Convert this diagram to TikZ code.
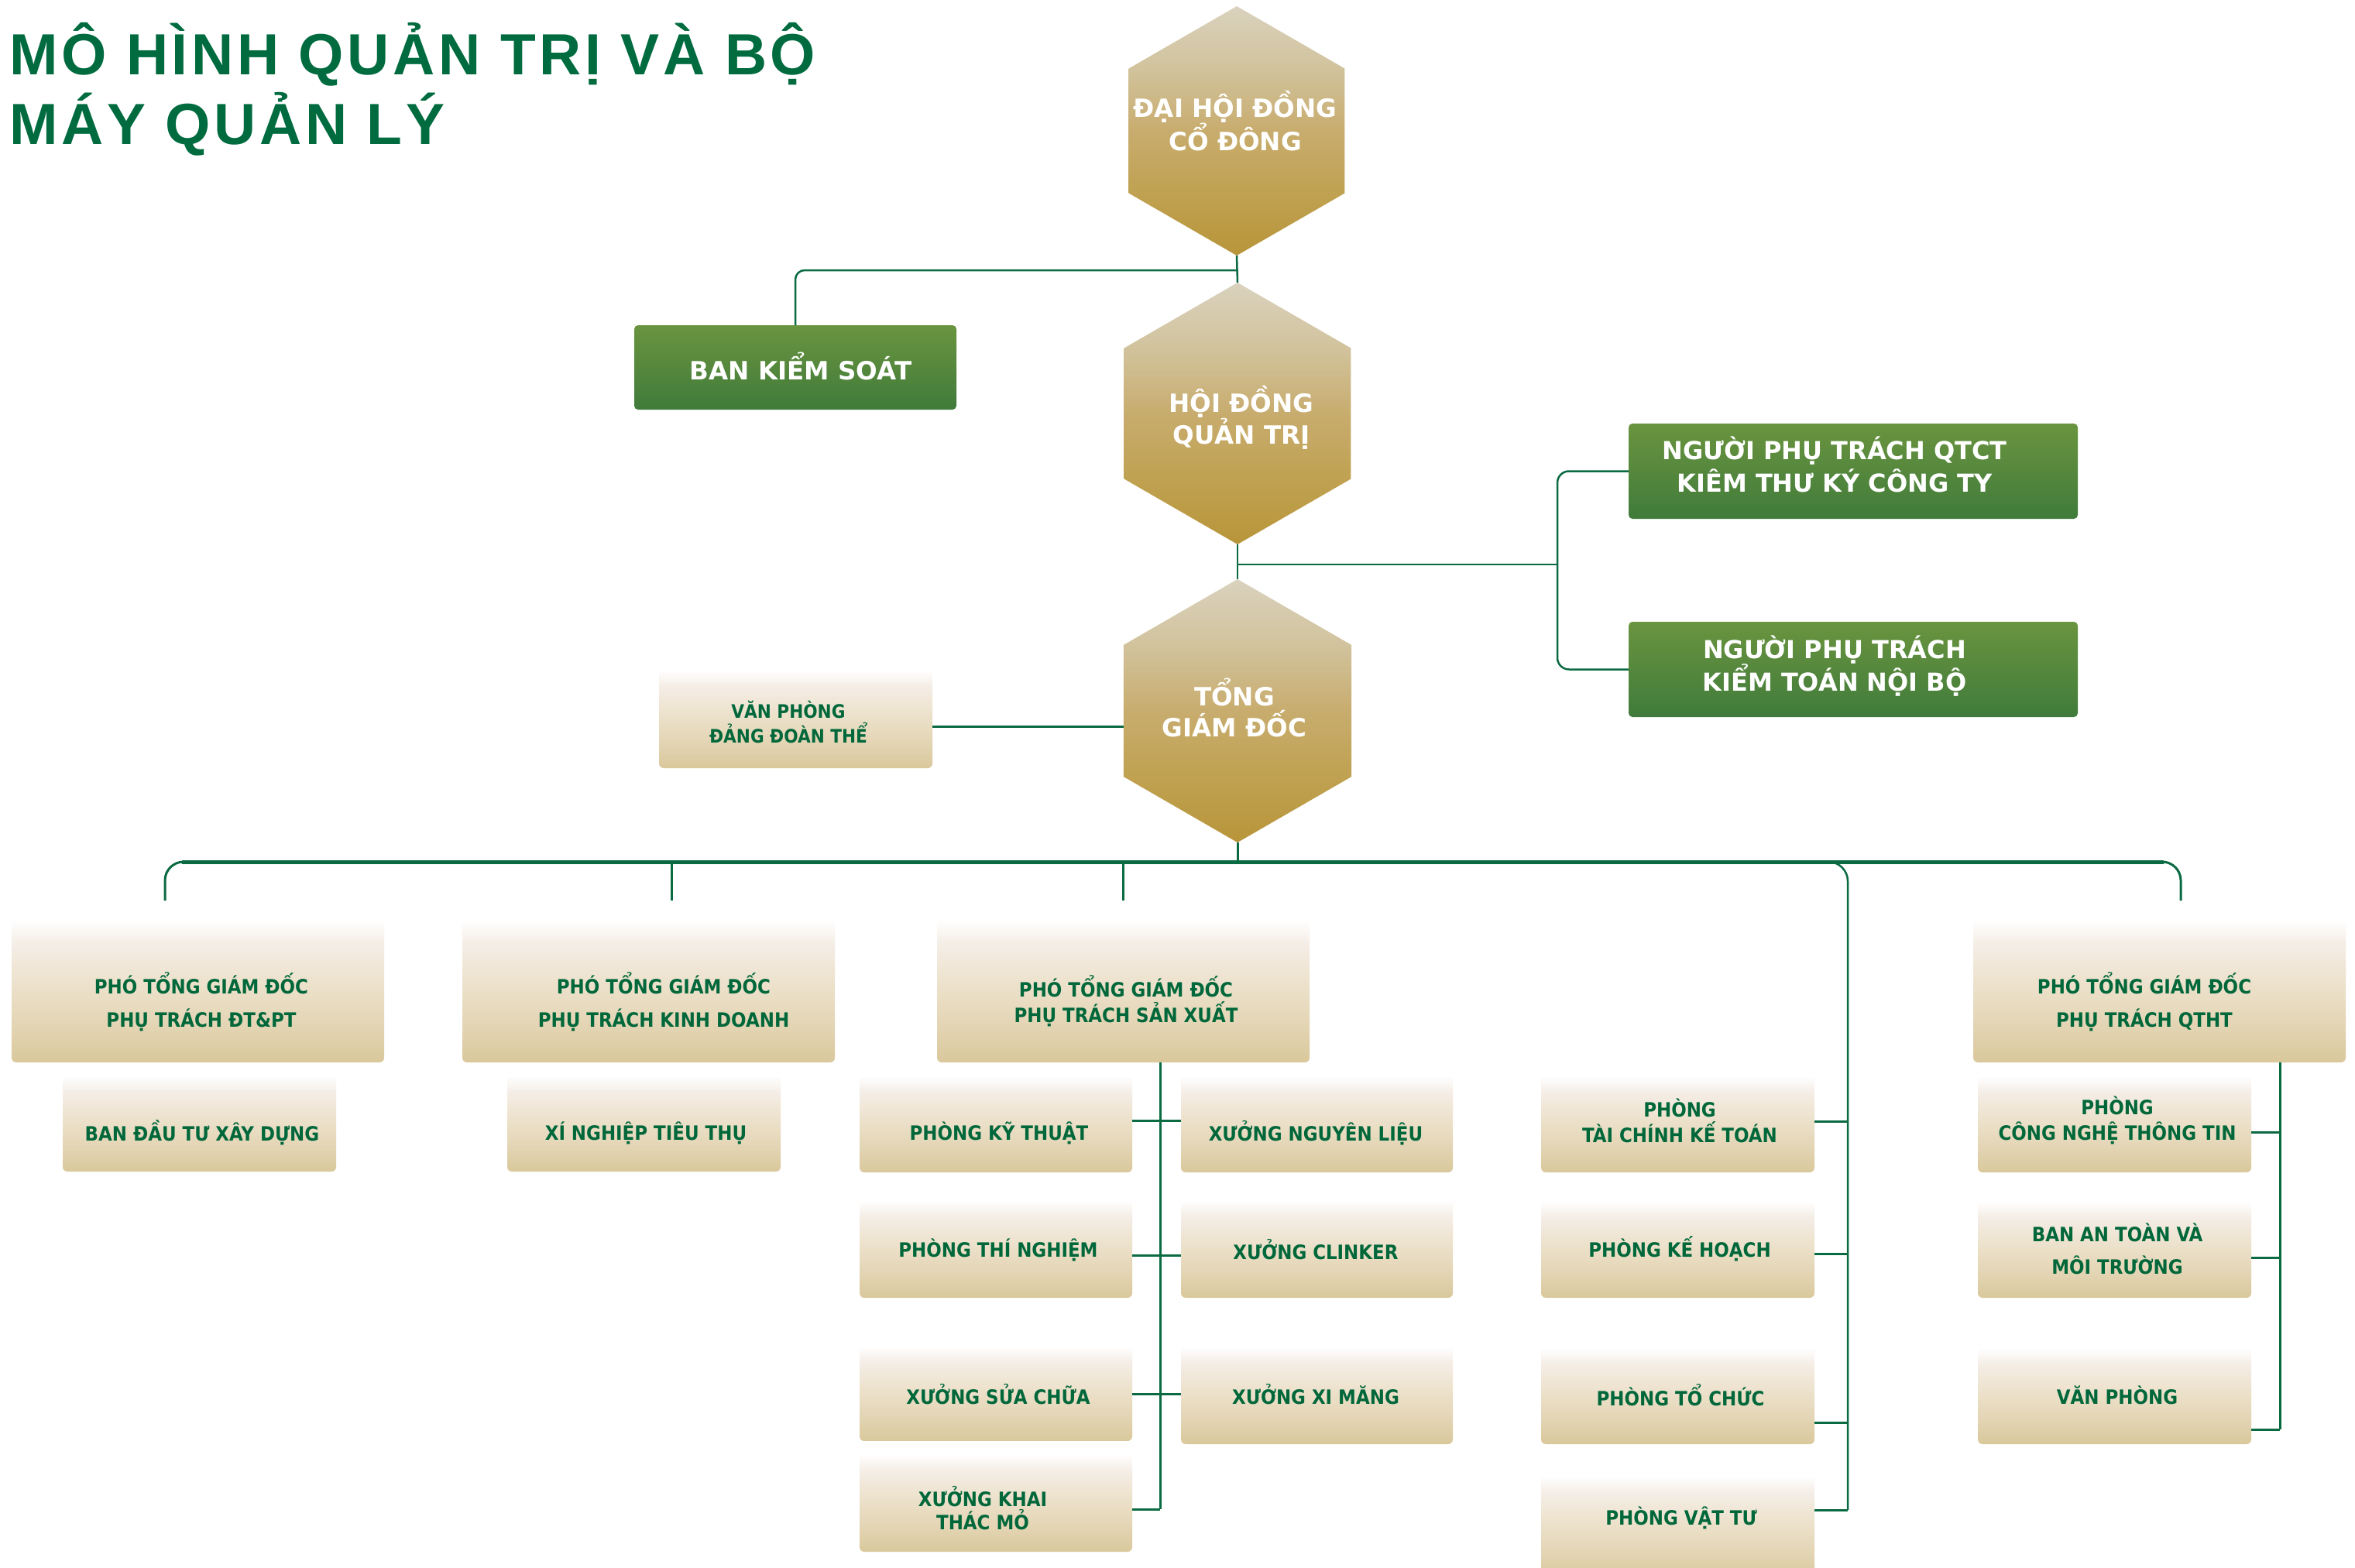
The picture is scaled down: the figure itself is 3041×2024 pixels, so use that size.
\documentclass[tikz,border=0pt]{standalone}
\usepackage{fontspec}
\setmainfont{DejaVu Sans}
\newfontfamily\titlefont[LetterSpace=6.2]{Liberation Sans}
\newfontfamily\condfont{DejaVu Sans Condensed}
\usetikzlibrary{shapes.geometric,calc}

\definecolor{titlegreen}{RGB}{0,107,63}
\definecolor{txtgreen}{RGB}{0,103,58}
\definecolor{lngreen}{RGB}{10,106,66}
\definecolor{grT}{RGB}{106,148,63}
\definecolor{grB}{RGB}{64,123,59}
\definecolor{hT}{RGB}{218,210,190}
\definecolor{hT2}{RGB}{209,194,155}
\definecolor{hM}{RGB}{200,172,110}
\definecolor{hB2}{RGB}{191,161,80}
\definecolor{hB}{RGB}{184,149,58}
\definecolor{bgB}{RGB}{217,200,155}
\definecolor{bgB2}{RGB}{226,211,177}
\definecolor{bgM}{RGB}{237,226,205}
\definecolor{bgP}{RGB}{245,238,231}

\pgfdeclareverticalshading{hexsh}{100bp}{color(0bp)=(hB); color(25bp)=(hB); color(37bp)=(hB2); color(50bp)=(hM); color(62bp)=(hT2); color(75bp)=(hT); color(100bp)=(hT)}
\pgfdeclareverticalshading{beigesh}{100bp}{color(0bp)=(bgB); color(25bp)=(bgB); color(35bp)=(bgB2); color(50bp)=(bgM); color(62bp)=(bgP); color(69bp)=(white); color(100bp)=(white)}

\tikzset{
  hexa/.style={regular polygon, regular polygon sides=6, shape border rotate=30,
    inner sep=0pt, outer sep=0pt, shade, shading=hexsh, shading angle=0, draw=none},
  hextxt/.style={text=white, align=center, inner sep=0pt,
    font=\bfseries\fontsize{32.5}{40}\selectfont},
  gbox/.style={rectangle, rounded corners=5pt, inner sep=0pt, outer sep=0pt,
    top color=grT, bottom color=grB, draw=none},
  gtxt/.style={text=white, align=center, inner sep=0pt,
    font=\bfseries\fontsize{32}{42}\selectfont},
  bbx/.style={rectangle, rounded corners=6pt, inner sep=0pt, outer sep=0pt,
    shade, shading=beigesh, shading angle=0, draw=none},
  btx/.style={text=txtgreen, align=center, inner sep=0pt,
    font=\condfont\bfseries\fontsize{25.5}{43}\selectfont},
  sp33/.style={font=\condfont\bfseries\fontsize{25.5}{33}\selectfont},
  sp30/.style={font=\condfont\bfseries\fontsize{25.5}{30}\selectfont},
  sp42/.style={font=\condfont\bfseries\fontsize{25.5}{42}\selectfont},
  sp32/.style={font=\condfont\bfseries\fontsize{24}{32}\selectfont},
  lnthin/.style={draw=lngreen, line width=2.5pt},
  ln/.style={draw=lngreen, line width=3pt},
  busln/.style={draw=lngreen, line width=5pt},
}

\newcommand\bbox[9]{%
  \node[bbx, minimum width={#4-#2}, minimum height={#5-#3}] (#1) at ({(#2+#4)/2},{(#3+#5)/2}) {};
  \node[btx,#9] (#1t) at (#6,#7) {#8};
}

\begin{document}
\begin{tikzpicture}[x=1pt,y=-1pt]
\useasboundingbox (0,0) rectangle (3041,2024);
\fill[white] (0,0) rectangle (3041,2024);

% title
\node[anchor=base west, inner sep=0pt, text=titlegreen, align=left,
  font=\titlefont\bfseries\fontsize{75}{90}\selectfont] (title) at (12,96)
  {MÔ HÌNH QUẢN TRỊ VÀ BỘ};
\node[anchor=base west, inner sep=0pt, text=titlegreen, align=left,
  font=\titlefont\bfseries\fontsize{75}{90}\selectfont] (title2) at (12,186)
  {MÁY QUẢN LÝ};

% hexagons
\node[hexa, minimum size=322pt] (hex1) at (1597,169) {};
\node[hextxt] (hex1t) at (1595,156) {ĐẠI HỘI ĐỒNG\\CỔ ĐÔNG};
\node[hexa, minimum size=338pt] (hex2) at (1598,534) {};
\node[hextxt] (hex2t) at (1603,539) {HỘI ĐỒNG\\QUẢN TRỊ};
\node[hexa, minimum size=340pt] (hex3) at (1598,918) {};
\node[hextxt] (hex3t) at (1594,914) {TỔNG\\GIÁM ĐỐC};

% green boxes
\node[gbox, minimum width=416pt, minimum height=109pt] (bks) at (1027,474.5) {};
\node[gtxt, font=\bfseries\fontsize{32.5}{40}\selectfont] (bkst) at (1034,473) {BAN KIỂM SOÁT};
\node[gbox, minimum width=580pt, minimum height=123pt] (qtct) at (2393,608.5) {};
\node[gtxt] (qtctt) at (2369,600) {NGƯỜI PHỤ TRÁCH QTCT\\KIÊM THƯ KÝ CÔNG TY};
\node[gbox, minimum width=580pt, minimum height=123pt] (ktnb) at (2393,864.5) {};
\node[gtxt, font=\bfseries\fontsize{32}{39}\selectfont] (ktnbt) at (2369,860) {NGƯỜI PHỤ TRÁCH\\KIỂM TOÁN NỘI BỘ};

% beige boxes
\bbox{vp}{851}{848}{1204}{992}{1018}{932}{VĂN PHÒNG\\ĐẢNG ĐOÀN THỂ}{sp32}
\bbox{b1}{15}{1163}{496}{1372}{260}{1294}{PHÓ TỔNG GIÁM ĐỐC\\PHỤ TRÁCH ĐT\&PT}{}
\bbox{b2}{597}{1163}{1078}{1372}{857}{1294}{PHÓ TỔNG GIÁM ĐỐC\\PHỤ TRÁCH KINH DOANH}{}
\bbox{b3}{1210}{1163}{1691}{1372}{1454}{1293}{PHÓ TỔNG GIÁM ĐỐC\\PHỤ TRÁCH SẢN XUẤT}{sp33}
\bbox{b4}{2548}{1163}{3029}{1372}{2769}{1294}{PHÓ TỔNG GIÁM ĐỐC\\PHỤ TRÁCH QTHT}{}
\bbox{bdt}{81}{1373}{434}{1513}{261}{1463}{BAN ĐẦU TƯ XÂY DỰNG}{}
\bbox{xntt}{655}{1373}{1008}{1513}{834}{1463}{XÍ NGHIỆP TIÊU THỤ}{}
\bbox{kt}{1110}{1373}{1462}{1514}{1290}{1463}{PHÒNG KỸ THUẬT}{}
\bbox{nl}{1525}{1373}{1876}{1514}{1699}{1463}{XƯỞNG NGUYÊN LIỆU}{}
\bbox{tn}{1110}{1533}{1462}{1676}{1289}{1614}{PHÒNG THÍ NGHIỆM}{}
\bbox{ck}{1525}{1533}{1876}{1676}{1699}{1614}{XƯỞNG CLINKER}{}
\bbox{sc}{1110}{1722}{1462}{1861}{1289}{1801}{XƯỞNG SỬA CHỮA}{}
\bbox{xm}{1525}{1722}{1876}{1865}{1699}{1801}{XƯỞNG XI MĂNG}{}
\bbox{kh}{1110}{1861}{1462}{2004}{1269}{1948}{XƯỞNG KHAI\\THÁC MỎ}{sp30}
\bbox{tckt}{1990}{1373}{2343}{1514}{2169}{1447}{PHÒNG\\TÀI CHÍNH KẾ TOÁN}{sp33}
\bbox{khh}{1990}{1534}{2343}{1676}{2169}{1613}{PHÒNG KẾ HOẠCH}{}
\bbox{tc}{1990}{1724}{2343}{1865}{2170}{1802}{PHÒNG TỔ CHỨC}{}
\bbox{vt}{1990}{1888}{2343}{2040}{2171}{1960}{PHÒNG VẬT TƯ}{}
\bbox{cntt}{2554}{1373}{2907}{1514}{2734}{1447}{PHÒNG\\CÔNG NGHỆ THÔNG TIN}{sp33}
\bbox{atmt}{2554}{1534}{2907}{1676}{2734}{1613}{BAN AN TOÀN VÀ\\MÔI TRƯỜNG}{sp42}
\bbox{vpq}{2554}{1724}{2907}{1865}{2734}{1802}{VĂN PHÒNG}{}

% coordinates for connectors
\coordinate (j1) at (1597,349);
\coordinate (j2) at (1598,729);
\coordinate (vx) at (2011,729);
\coordinate (jv) at (0,938);
\coordinate (bus) at (1598,1113);
\coordinate (bl) at (213,1113);
\coordinate (br) at (2816,1113);
\coordinate (d2) at (867,1113);
\coordinate (fA) at (2340,1113);
\coordinate (fB) at (2386,1113);
\coordinate (fC) at (2386,1950);
\coordinate (px) at (1498,1949);
\coordinate (qx) at (2944,1846);
\coordinate (t1) at (0,1447);
\coordinate (t2) at (0,1621);
\coordinate (t3) at (0,1800);
\coordinate (f1) at (0,1448);
\coordinate (f2) at (0,1619);
\coordinate (f3) at (0,1837);
\coordinate (q1) at (0,1462);
\coordinate (q2) at (0,1624);

% top connectors
\draw[lnthin] (hex1.south) -- (hex2.north);
\draw[lnthin, rounded corners=12pt] (j1) -| (bks.north);
\draw[lnthin] (hex2.south) -- (hex3.north);
\draw[lnthin] (j2) -- (vx);
\draw[lnthin, rounded corners=15pt] (qtct.west) -| (vx) |- (ktnb.west);
\draw[ln] (vp.east |- jv) -- (hex3.west |- jv);

% bus
\draw[ln] (hex3.south) -- (bus);
\draw[ln, rounded corners=24pt] (b1.north -| bl) -- (bl) -- (br) -- (b4.north -| br);
\draw[busln] ($(bl)+(22,0)$) -- ($(br)+(-22,0)$);
\draw[ln] (d2) -- (b2.north -| d2);
\draw[ln] (b3.north |- bus) -- (b3.north);
\draw[lnthin, rounded corners=25pt] (fA) -- (fB) -- (fC);

% production
\draw[ln] (b3.south -| px) -- (px);
\draw[ln] (kt.east |- t1) -- (nl.west |- t1);
\draw[ln] (tn.east |- t2) -- (ck.west |- t2);
\draw[ln] (sc.east |- t3) -- (xm.west |- t3);
\draw[ln] (kh.east |- px) -- (px);

% finance
\draw[ln] (tckt.east |- f1) -- (fC |- f1);
\draw[ln] (khh.east |- f2) -- (fC |- f2);
\draw[ln] (tc.east |- f3) -- (fC |- f3);
\draw[ln] (vt.east |- fC) -- (fC);

% QTHT
\draw[ln] (b4.south -| qx) -- (qx);
\draw[ln] (cntt.east |- q1) -- (qx |- q1);
\draw[ln] (atmt.east |- q2) -- (qx |- q2);
\draw[ln] (vpq.east |- qx) -- (qx);
\end{tikzpicture}
\end{document}
